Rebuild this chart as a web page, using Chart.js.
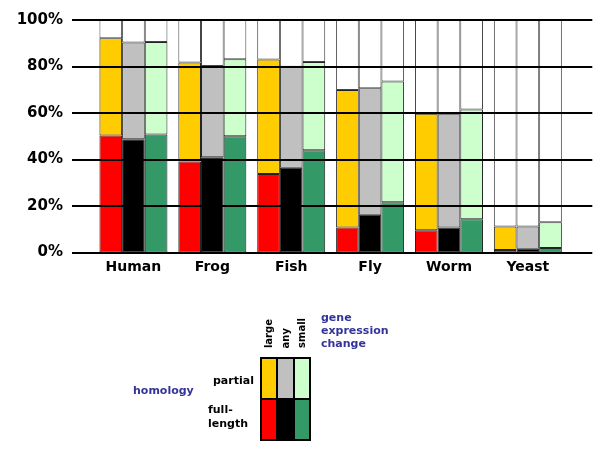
<!DOCTYPE html>
<html>
<head>
<meta charset="utf-8">
<script src="https://cdn.jsdelivr.net/npm/chart.js@4"></script>
<style>
  body { margin: 0; background: #fff; }
  #wrap { position: relative; width: 600px; height: 450px; font-family: "DejaVu Sans", sans-serif; font-weight: bold; }
  #wrap canvas { position: absolute; left: 0; top: 0; }
  .lab { position: absolute; font-size: 11px; line-height: 13px; color: #000; white-space: nowrap; }
  .blu { color: #333399; }
  .rot { position: absolute; font-size: 10px; line-height: 13px; width: 13px; writing-mode: vertical-rl; transform: rotate(180deg); white-space: nowrap; }
  #box { position: absolute; left: 260px; top: 357px; width: 51px; height: 84px; background: #000; }
  .cell { position: absolute; height: 39px; }
</style>
</head>
<body>
<div id="wrap">
  <canvas id="chartSpecie" width="600" height="450"></canvas>

  <div class="lab blu" style="left:133px; top:384px;">homology</div>
  <div class="lab" style="left:213px; top:374px;">partial</div>
  <div class="lab" style="left:208px; top:403px; line-height:14px;">full-<br>length</div>

  <div class="rot" style="left:262px; bottom:102px;">large</div>
  <div class="rot" style="left:279px; bottom:102px;">any</div>
  <div class="rot" style="left:295px; bottom:102px;">small</div>

  <div class="lab blu" style="left:321px; top:311px;">gene<br>expression<br>change</div>

  <div id="box">
    <div class="cell" style="left:2px; top:2px; width:14px; background:#ffcc00;"></div>
    <div class="cell" style="left:18px; top:2px; width:15px; background:#c0c0c0;"></div>
    <div class="cell" style="left:35px; top:2px; width:14px; background:#ccffcc;"></div>
    <div class="cell" style="left:2px; top:43px; width:14px; background:#ff0000;"></div>
    <div class="cell" style="left:18px; top:43px; width:15px; background:#000000;"></div>
    <div class="cell" style="left:35px; top:43px; width:14px; background:#339966;"></div>
  </div>
</div>

<script>
//dati (percentuali)
var specie = ["Human", "Frog", "Fish", "Fly", "Worm", "Yeast"];
var yTicks = [0, 20, 40, 60, 80, 100];

//full-length = parte bassa, tot = full-length + partial
var fullLarge = [50.3, 39.1, 33.8, 10.7, 9.6, 1.1];
var totLarge  = [92.1, 81.7, 83.0, 69.9, 59.7, 11.2];
var fullAny   = [48.7, 41.0, 36.5, 16.2, 10.7, 1.6];
var totAny    = [90.3, 80.2, 79.9, 70.6, 59.5, 11.2];
var fullSmall = [50.7, 50.0, 44.0, 21.6, 14.3, 1.9];
var totSmall  = [90.5, 83.1, 81.9, 73.6, 61.5, 13.0];

//differenza tra due array
function diff(a, b) {
  var out = [];
  for (var i = 0; i < a.length; i++) {
    out.push(Math.round((a[i] - b[i]) * 10) / 10);
  }
  return out;
}

//resto fino al 100%
function rest(a) {
  var out = [];
  for (var i = 0; i < a.length; i++) {
    out.push(Math.round((100 - a[i]) * 10) / 10);
  }
  return out;
}

//crea i tre segmenti di una colonna
function colonna(stack, full, tot, colFull, colPart) {
  return [
    { label: stack + " full", stack: stack, data: full, backgroundColor: colFull, borderColor: "#222" },
    { label: stack + " partial", stack: stack, data: diff(tot, full), backgroundColor: colPart, borderColor: "#222" },
    { label: stack + " rest", stack: stack, data: rest(tot), backgroundColor: "#ffffff", borderColor: "#444" }
  ];
}

//linee orizzontali sopra le barre
var gridPlugin = {
  id: "gridSopra",
  afterDatasetsDraw: function (chart) {
    var ctx = chart.ctx;
    var area = chart.chartArea;
    var y = chart.scales.y;
    ctx.save();
    ctx.strokeStyle = "#000";
    for (var i = 0; i < yTicks.length; i++) {
      var py = Math.round(y.getPixelForValue(yTicks[i]));
      ctx.lineWidth = 2;
      ctx.beginPath();
      ctx.moveTo(area.left - 22, py);
      ctx.lineTo(area.right + 25, py);
      ctx.stroke();
    }
    ctx.restore();
  }
};

function init() {
  var datasets = []
    .concat(colonna("large", fullLarge, totLarge, "#ff0000", "#ffcc00"))
    .concat(colonna("any", fullAny, totAny, "#000000", "#c0c0c0"))
    .concat(colonna("small", fullSmall, totSmall, "#339966", "#ccffcc"));

  var ctx = document.getElementById("chartSpecie").getContext("2d");
  var chart = new Chart(ctx, {
    type: "bar",
    data: {
      labels: specie,
      datasets: datasets
    },
    options: {
      responsive: false,
      animation: false,
      layout: { padding: { top: 20, right: 32.7, left: 0, bottom: 0 } },
      datasets: {
        bar: {
          categoryPercentage: 0.862,
          barPercentage: 1,
          borderWidth: 1,
          borderSkipped: false
        }
      },
      plugins: {
        legend: { display: false },
        tooltip: { enabled: false }
      },
      scales: {
        x: {
          stacked: true,
          grid: { display: false, drawTicks: false },
          border: { display: false },
          ticks: {
            color: "#000",
            padding: 6,
            font: { family: "DejaVu Sans", size: 14, weight: "bold" }
          },
          afterFit: function (scale) { scale.height = 197.5; }
        },
        y: {
          stacked: true,
          min: 0,
          max: 100,
          grid: { display: false, drawTicks: true, tickLength: 22 },
          border: { display: false },
          ticks: {
            stepSize: 20,
            color: "#000",
            padding: 9,
            font: { family: "DejaVu Sans", size: 15, weight: "bold" },
            callback: function (v) { return v + "%"; }
          },
          afterFit: function (scale) { scale.width = 94; }
        }
      }
    },
    plugins: [gridPlugin]
  });
}

init();
</script>
</body>
</html>
